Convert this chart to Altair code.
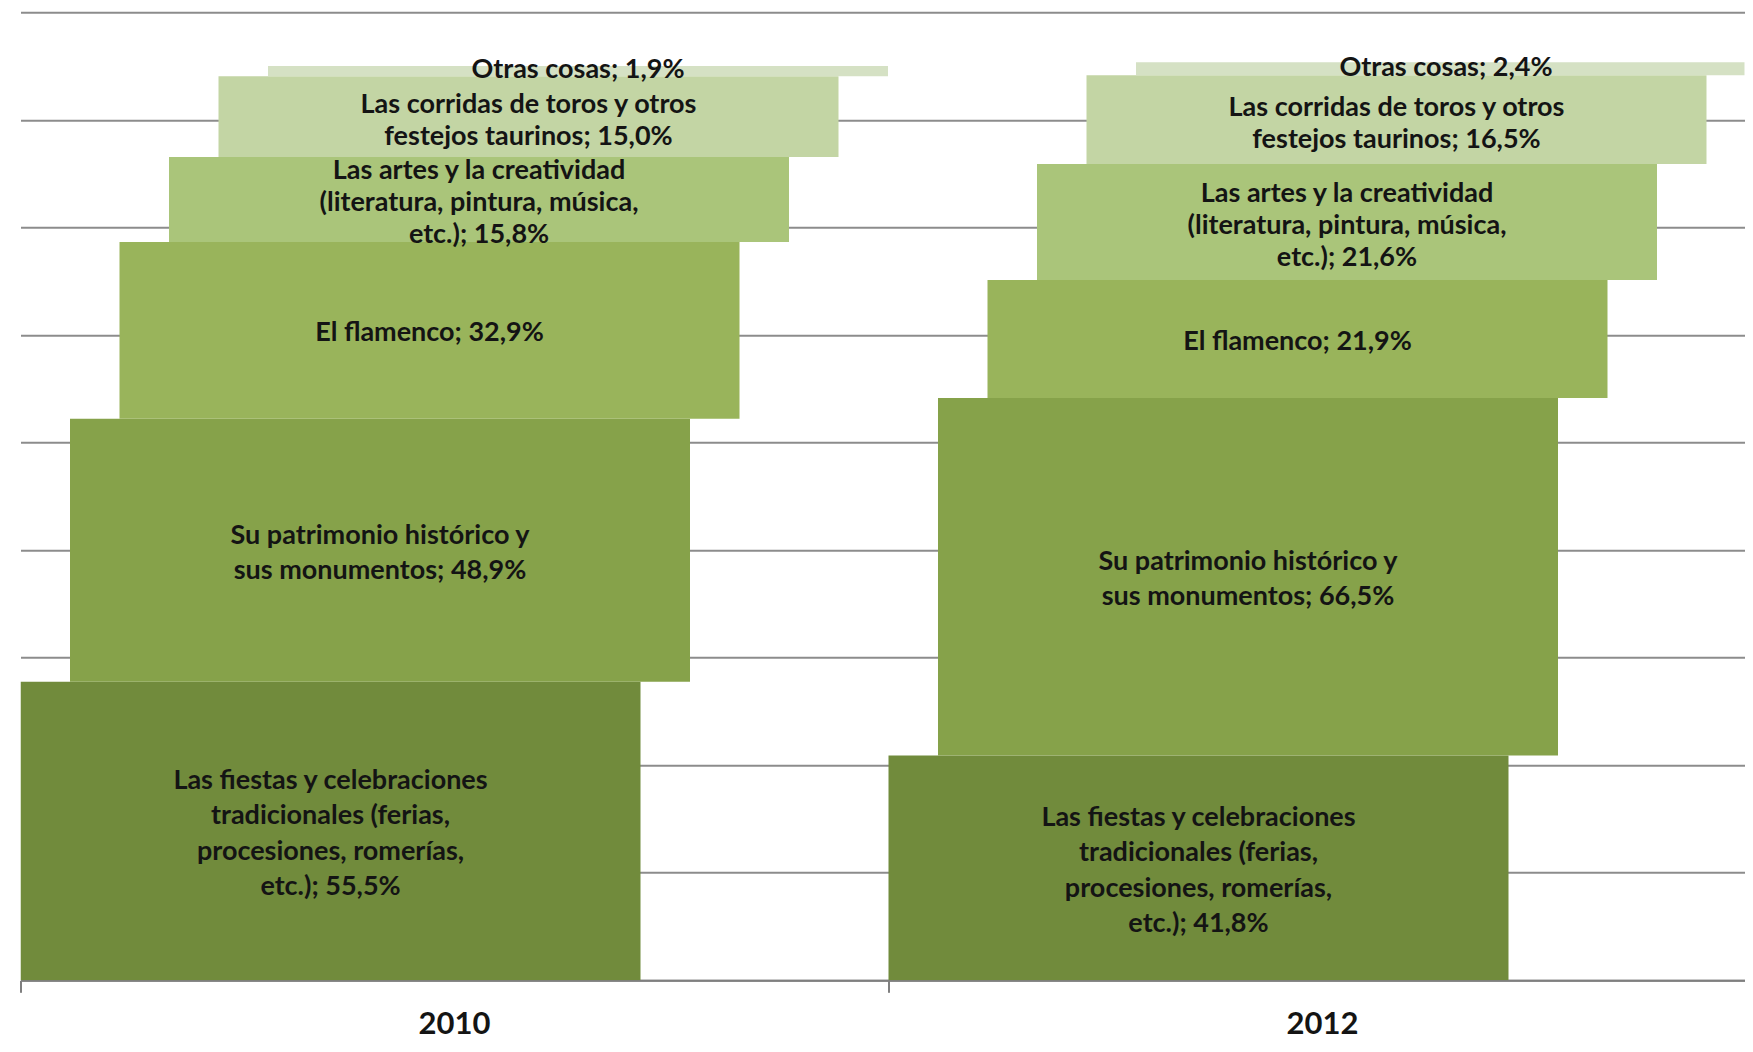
import altair as alt
import pandas as pd

# ---- data ----
categories = ["2010", "2012"]
series_keys = ["fiestas", "patrimonio", "flamenco", "artes", "corridas", "otras"]
series_names = [
    "Las fiestas y celebraciones\ntradicionales (ferias,\nprocesiones, romerías,\netc.)",
    "Su patrimonio histórico y\nsus monumentos",
    "El flamenco",
    "Las artes y la creatividad\n(literatura, pintura, música,\netc.)",
    "Las corridas de toros y otros\nfestejos taurinos",
    "Otras cosas",
]
values_2010 = [55.5, 48.9, 32.9, 15.8, 15.0, 1.9]
values_2012 = [41.8, 66.5, 21.9, 21.6, 16.5, 2.4]
colors = ["#718B3C", "#86A24A", "#99B45B", "#AAC57A", "#C3D5A4", "#D5E1C4"]
label_style = ["normal", "normal", "normal", "tight", "tight", "top"]

# ---- layout constants ----
BAR_W = 620 / 868      # bar width relative to category width
SHIFT = 49.5 / 868     # horizontal step between stacked segments
PLOT_W = 1724
PLOT_H = 968
XMAX = PLOT_W / 868
YMAX = 180
FONT = "Lato"
STYLES = {"normal": (35.5, 3), "tight": (32, 4), "top": (32, -1)}  # line height, dy

rows = []
for ci, (cat, vals) in enumerate(zip(categories, [values_2010, values_2012])):
    base = 0.0
    for k, (key, name, v, st) in enumerate(zip(series_keys, series_names, vals, label_style)):
        x0 = ci + k * SHIFT
        label = name + "; " + f"{v:.1f}".replace(".", ",") + "%"
        nlines = label.count("\n") + 1
        lh = STYLES[st][0]
        # shift so that a multi-line block is centred on the segment
        ylab = base + v / 2 + (nlines - 1) / 2 * lh * YMAX / PLOT_H
        rows.append({
            "cat": cat, "series": key, "style": st,
            "x0": x0, "x1": x0 + BAR_W, "xm": x0 + BAR_W / 2,
            "y0": base, "y1": base + v, "ylab": ylab,
            "label": label,
        })
        base += v
df = pd.DataFrame(rows)
cat_df = pd.DataFrame({"cat": categories, "xc": [i + 0.5 for i in range(len(categories))]})

xscale = alt.Scale(domain=[0, XMAX], nice=False, zero=False)
yscale = alt.Scale(domain=[0, YMAX], nice=False)
xaxis = alt.Axis(values=[0, 1, 2], labels=False, ticks=True, tickSize=12, tickColor="#7f7f7f",
                 tickWidth=2, domainColor="#7f7f7f", domainWidth=2, grid=False, title=None)
yaxis = alt.Axis(values=list(range(0, YMAX + 1, 20)), labels=False, ticks=False, domain=False,
                 grid=True, gridColor="#8c8c8c", gridWidth=2, title=None)

bars = alt.Chart(df).mark_rect(clip=True).encode(
    x=alt.X("x0:Q", scale=xscale, axis=xaxis),
    x2="x1:Q",
    y=alt.Y("y0:Q", scale=yscale, axis=yaxis),
    y2="y1:Q",
    color=alt.Color("series:N", scale=alt.Scale(domain=series_keys, range=colors), legend=None),
)


def text_layer(style):
    lh, dy = STYLES[style]
    return alt.Chart(df).transform_filter(
        alt.datum.style == style
    ).mark_text(
        font=FONT, fontWeight="bold", fontSize=27, lineHeight=lh, lineBreak="\n",
        align="center", baseline="middle", color="#141414", dy=dy,
    ).encode(
        x=alt.X("xm:Q", scale=xscale, axis=xaxis),
        y=alt.Y("ylab:Q", scale=yscale, axis=yaxis),
        text="label:N",
    )


cat_labels = alt.Chart(cat_df).mark_text(
    font=FONT, fontWeight="bold", fontSize=31, align="center", baseline="middle",
    color="#141414",
).encode(
    x=alt.X("xc:Q", scale=xscale, axis=xaxis),
    y=alt.value(PLOT_H + 45),
    text="cat:N",
)

chart = alt.layer(
    bars, text_layer("normal"), text_layer("tight"), text_layer("top"), cat_labels
).properties(
    width=PLOT_W, height=PLOT_H,
    padding={"left": 12.5, "top": 4.3, "right": 0, "bottom": 60},
    autosize=alt.AutoSizeParams(type="none"),
    background="white",
).configure_view(stroke=None)

chart.save("out.html", embed_options={"renderer": "svg", "actions": False})
